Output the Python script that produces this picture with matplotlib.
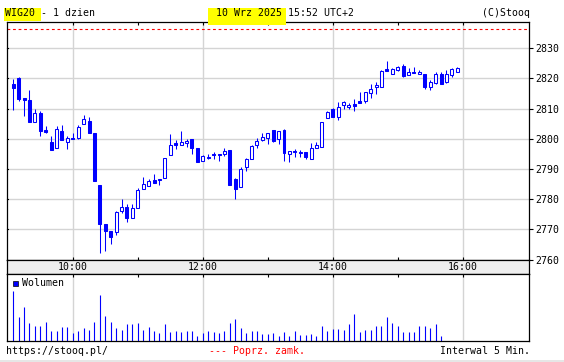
import numpy as np
import pandas as pd
import matplotlib
matplotlib.use("Agg")
import matplotlib.pyplot as plt
from matplotlib.patches import Rectangle

# 5-minute candles, WIG20, 10 Wrz 2025
opens = [2818.3, 2820.2, 2813.4, 2812.8, 2805.4, 2808.6, 2802.6, 2798.9, 2796.8, 2802.5,
         2799.1, 2800.4, 2800.2, 2804.8, 2805.9, 2801.9, 2784.6, 2771.7, 2769.4, 2769.0,
         2776.1, 2777.4, 2773.9, 2777.2, 2783.2, 2784.5, 2786.2, 2786.5, 2786.9, 2794.7,
         2798.5, 2798.1, 2798.5, 2799.9, 2797.0, 2792.5, 2793.9, 2794.6, 2795.1, 2795.0,
         2796.2, 2786.6, 2784.0, 2790.5, 2793.4, 2797.8, 2799.7, 2800.1, 2802.9, 2799.8,
         2803.0, 2795.1, 2795.9, 2795.4, 2795.6, 2793.4, 2797.0, 2797.2, 2806.8, 2809.8,
         2807.1, 2811.1, 2810.4, 2811.5, 2812.5, 2812.5, 2815.3, 2817.0, 2817.1, 2823.1,
         2821.6, 2822.9, 2824.1, 2821.0, 2822.2, 2821.4, 2821.5, 2817.0, 2818.4, 2821.4,
         2818.9, 2821.3, 2822.2]
highs = [2819.8, 2820.4, 2813.4, 2816.1, 2809.8, 2809.2, 2804.2, 2800.9, 2804.2, 2804.5,
         2800.8, 2801.8, 2804.5, 2807.8, 2807.2, 2801.9, 2784.6, 2771.7, 2769.4, 2776.2,
         2780.0, 2778.4, 2778.4, 2783.6, 2787.3, 2786.6, 2788.3, 2786.6, 2793.5, 2801.5,
         2799.6, 2802.5, 2799.8, 2799.9, 2797.0, 2794.6, 2795.0, 2795.5, 2795.1, 2796.8,
         2796.2, 2787.1, 2790.6, 2793.6, 2798.1, 2800.2, 2801.8, 2801.8, 2802.9, 2802.5,
         2803.4, 2795.9, 2796.6, 2796.3, 2795.6, 2798.5, 2799.0, 2805.6, 2809.2, 2810.3,
         2812.2, 2812.4, 2811.9, 2813.1, 2815.5, 2815.4, 2818.3, 2818.8, 2822.7, 2825.8,
         2823.6, 2824.1, 2824.8, 2823.5, 2823.8, 2822.8, 2821.5, 2819.5, 2822.1, 2822.1,
         2822.8, 2823.4, 2823.7]
lows = [2809.7, 2812.6, 2807.6, 2805.6, 2805.4, 2801.0, 2801.8, 2796.4, 2796.8, 2799.7,
        2796.7, 2800.0, 2799.8, 2804.8, 2802.0, 2786.1, 2762.2, 2762.9, 2765.2, 2768.2,
        2775.5, 2772.4, 2773.9, 2777.2, 2783.2, 2784.5, 2785.4, 2784.8, 2786.9, 2794.7,
        2796.7, 2798.1, 2797.3, 2795.0, 2792.4, 2792.5, 2793.3, 2793.4, 2792.7, 2794.4,
        2784.8, 2780.1, 2784.0, 2789.4, 2793.4, 2797.1, 2799.3, 2798.4, 2798.8, 2798.4,
        2792.8, 2792.3, 2794.1, 2793.8, 2793.4, 2793.4, 2797.0, 2797.2, 2806.8, 2807.3,
        2806.2, 2809.8, 2809.8, 2809.3, 2812.0, 2811.8, 2813.6, 2814.9, 2817.1, 2822.6,
        2821.6, 2822.3, 2820.6, 2821.0, 2821.7, 2821.4, 2816.6, 2816.3, 2818.2, 2818.2,
        2818.6, 2820.6, 2822.2]
closes = [2816.7, 2813.1, 2813.0, 2805.6, 2808.5, 2802.7, 2802.4, 2796.4, 2803.2, 2799.7,
          2800.1, 2800.0, 2803.9, 2806.5, 2802.0, 2786.1, 2771.6, 2769.5, 2767.5, 2775.6,
          2777.4, 2773.8, 2777.0, 2783.0, 2785.0, 2786.0, 2785.4, 2786.3, 2793.5, 2798.1,
          2798.0, 2798.9, 2799.3, 2797.1, 2792.4, 2794.3, 2793.7, 2794.5, 2794.7, 2795.9,
          2784.8, 2783.5, 2789.9, 2793.3, 2797.5, 2799.4, 2800.7, 2801.8, 2799.4, 2802.5,
          2795.4, 2795.9, 2795.7, 2795.3, 2794.0, 2797.0, 2798.0, 2805.6, 2809.0, 2807.3,
          2810.4, 2812.1, 2811.2, 2810.8, 2812.0, 2815.4, 2816.5, 2817.8, 2822.4, 2822.6,
          2823.1, 2823.8, 2820.9, 2822.2, 2821.7, 2822.2, 2817.2, 2818.7, 2821.6, 2818.2,
          2821.4, 2823.1, 2823.4]
# volume (arbitrary units, no scale shown); last three bars not yet published
volume = [148, 70, 100, 53, 46, 45, 56, 31, 31, 42, 41, 23, 31, 40, 34, 56, 137, 73, 58, 40,
          34, 50, 50, 53, 33, 43, 29, 25, 52, 26, 31, 26, 31, 31, 16, 25, 29, 28, 24, 29,
          53, 67, 40, 24, 31, 29, 20, 21, 23, 14, 28, 16, 31, 18, 17, 21, 16, 46, 31, 37,
          35, 32, 50, 79, 26, 34, 34, 44, 44, 70, 53, 46, 28, 26, 26, 46, 44, 38, 50, 16]
prev_close = 2836.3
price_ticks = [2760, 2770, 2780, 2790, 2800, 2810, 2820, 2830]
hour_labels = ["10:00", "12:00", "14:00", "16:00"]

times = pd.date_range("2025-09-10 09:05", periods=len(opens), freq="5min")
x = times.hour + times.minute / 60.0
xv = x[:len(volume)]

W, H = 564, 362
BLUE = "#0000ff"
GRID = "#d4d4d4"
MONO = "DejaVu Sans Mono"
FS = 7.1
plt.rcParams["font.family"] = MONO

fig = plt.figure(figsize=(W / 100, H / 100), dpi=100)

def fx(px):
    return px / W

def fy(py):
    return 1 - py / H

left, right = 6.5, 529
ax = fig.add_axes([fx(left), fy(259.5), fx(right - left), fy(22) - fy(259.5)])
band = fig.add_axes([fx(left), fy(273.5), fx(right - left), fy(259.5) - fy(273.5)])
axv = fig.add_axes([fx(left), fy(341), fx(right - left), fy(273.5) - fy(341)])

xlim = (8.98, 17.02)
hours = [10, 11, 12, 13, 14, 15, 16]
grid_hours = [10, 12, 14, 16]

# ---- price panel
ax.set_xlim(*xlim)
ax.set_ylim(2760, 2838.7)
for p in price_ticks[1:]:
    ax.axhline(p, color=GRID, lw=1.0, zorder=0)
for h in grid_hours:
    ax.axvline(h, color=GRID, lw=1.0, zorder=0)
ax.axhline(prev_close, color="red", lw=0.8, ls=(0, (2.5, 2.5)), zorder=1)

ax.vlines(x, lows, highs, color=BLUE, lw=0.75, zorder=2)
o = np.array(opens)
c = np.array(closes)
bottoms = np.minimum(o, c)
heights = np.maximum(np.abs(c - o), 0.35)
faces = ["white" if cc > oo else BLUE for oo, cc in zip(o, c)]
ax.bar(x, heights, bottom=bottoms, width=0.046, color=faces, edgecolor=BLUE,
       linewidth=0.75, zorder=3)

ax.yaxis.tick_right()
ax.set_yticks(price_ticks)
ax.set_yticklabels([str(p) for p in price_ticks], fontsize=FS)
ax.tick_params(axis="y", which="major", right=True, left=False, direction="out",
               length=3, width=0.8, pad=1.5)
ax.set_xticks(hours)
ax.tick_params(axis="x", top=True, bottom=True, direction="in", length=2.2,
               width=0.8, labelbottom=False)
for p in price_ticks:
    ax.plot([xlim[0], xlim[0] + 0.025], [p, p], color="black", lw=0.8,
            clip_on=False, zorder=4)
for s in ax.spines.values():
    s.set_linewidth(0.9)

# ---- time band
band.set_facecolor("#eeeeee")
band.set_xlim(*xlim)
band.set_ylim(0, 1)
band.set_xticks([])
band.set_yticks([])
for h, lab in zip(grid_hours, hour_labels):
    band.text(h, 0.45, lab, ha="center", va="center", fontsize=FS)
for s in band.spines.values():
    s.set_linewidth(0.9)

# ---- volume panel
axv.set_xlim(*xlim)
axv.set_ylim(0, 201)
for h in grid_hours:
    axv.plot([h, h], [6, 201], color=GRID, lw=1.0, zorder=0)
axv.vlines(xv, 0, volume, color=BLUE, lw=0.8, zorder=2)
axv.set_xticks(hours)
axv.tick_params(axis="x", top=True, bottom=False, direction="in", length=2.2,
                width=0.8, labelbottom=False)
axv.set_yticks([])
for s in axv.spines.values():
    s.set_linewidth(0.9)
axv.add_patch(Rectangle((0.012, 0.81), 0.0095, 0.085, transform=axv.transAxes,
                        facecolor=BLUE, edgecolor="black", lw=0.5, zorder=5))
axv.text(0.03, 0.855, "Wolumen", transform=axv.transAxes, ha="left", va="center",
         fontsize=FS)

# ---- header
fig.patches.append(Rectangle((fx(3.5), fy(21)), fx(37), fy(8) - fy(21),
                             transform=fig.transFigure, facecolor="#ffff00",
                             edgecolor="none", zorder=0))
fig.patches.append(Rectangle((fx(208), fy(25)), fx(78), fy(8) - fy(25),
                             transform=fig.transFigure, facecolor="#ffff00",
                             edgecolor="none", zorder=0))
fig.text(fx(5), fy(13.5), "WIG20 - 1 dzien", ha="left", va="center", fontsize=FS)
fig.text(fx(216), fy(13.5), "10 Wrz 2025 15:52 UTC+2", ha="left", va="center",
         fontsize=FS)
fig.text(fx(529.5), fy(13.5), "(C)Stooq", ha="right", va="center", fontsize=FS)

# ---- footer
fig.text(fx(6), fy(350.5), "https://stooq.pl/", ha="left", va="center", fontsize=FS)
fig.text(fx(209), fy(350.5), "--- Poprz. zamk.", ha="left", va="center",
         fontsize=FS, color="red")
fig.text(fx(529.5), fy(350.5), "Interwal 5 Min.", ha="right", va="center",
         fontsize=FS)
fig.patches.append(Rectangle((0, 0), 1, fy(360), transform=fig.transFigure,
                             facecolor="#e6e6e6", edgecolor="none", zorder=0))

fig.savefig("out.png", dpi=100, facecolor="white")
